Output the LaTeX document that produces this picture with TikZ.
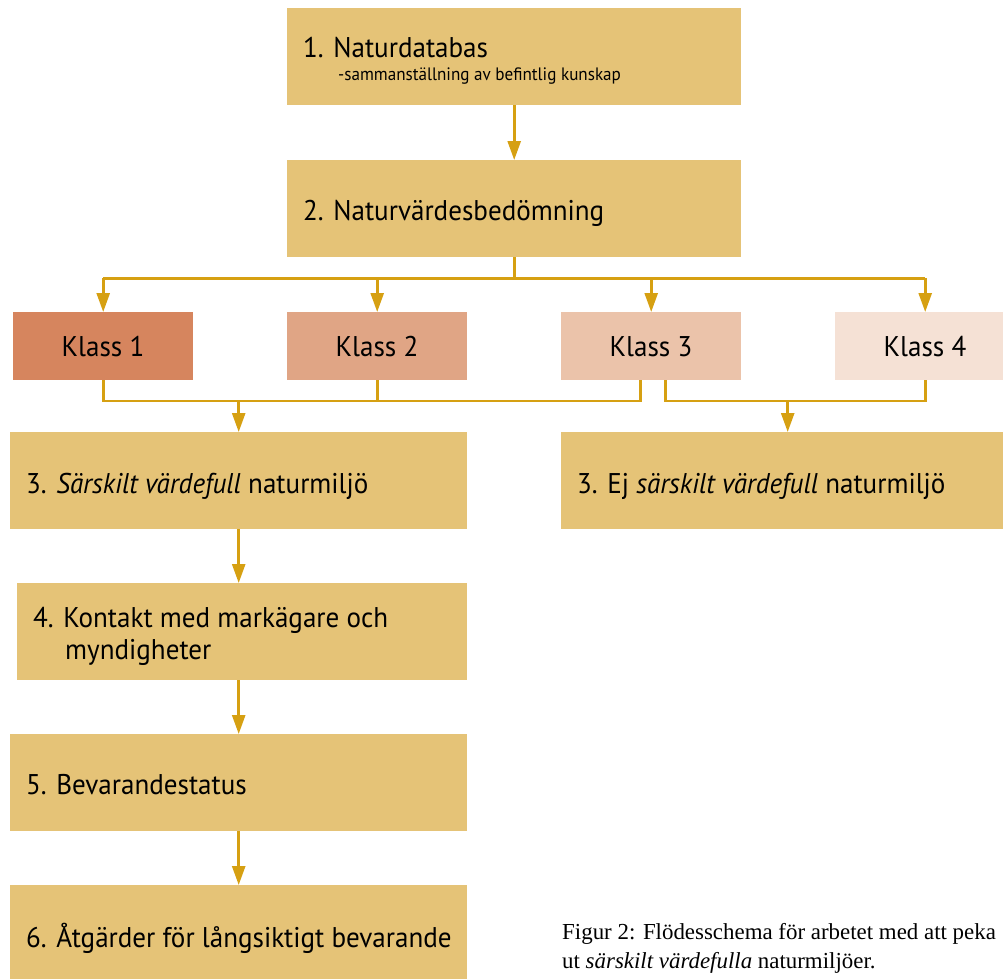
\documentclass[tikz,border=0pt]{standalone}
\usepackage{fontspec}
\usetikzlibrary{arrows.meta,calc}
\newfontfamily\boxfont{PT Sans}[FakeStretch=0.95]
\newfontfamily\capfont{Liberation Serif}
\definecolor{boxgold}{RGB}{229,195,119}
\definecolor{linegold}{RGB}{214,160,18}
\definecolor{klassA}{RGB}{214,133,94}
\definecolor{klassB}{RGB}{224,165,133}
\definecolor{klassC}{RGB}{235,195,170}
\definecolor{klassD}{RGB}{245,225,213}
\tikzset{
  box/.style={fill=boxgold, draw=none, rectangle, inner sep=0pt, anchor=north west},
  klass/.style={draw=none, rectangle, inner sep=0pt, anchor=north west, minimum width=180pt, minimum height=68pt},
  txt/.style={anchor=base west, inner sep=0pt, font=\boxfont\fontsize{28.5}{33}\selectfont, text=black},
  subtxt/.style={anchor=base west, inner sep=0pt, font=\boxfont\fontsize{18}{22}\selectfont, text=black},
  ktxt/.style={anchor=base, inner sep=0pt, font=\boxfont\fontsize{28.5}{33}\selectfont, text=black},
  captxt/.style={anchor=base west, inner sep=0pt, font=\capfont\fontsize{22.9}{29}\selectfont, text=black},
  conn/.style={draw=linegold, line width=2.6pt},
  arr/.style={conn, -{Triangle[length=19pt,width=13pt]}},
}
\begin{document}
\begin{tikzpicture}[x=1pt,y=-1pt]
\useasboundingbox (0,0) rectangle (1003,978);
\clip (0,0) rectangle (1003,978);
% boxes
\node[box, minimum width=454pt, minimum height=97pt] (b1) at (287,8) {};
\node[box, minimum width=454pt, minimum height=97pt] (b2) at (287,160) {};
\node[klass, fill=klassA] (k1) at (13,312) {};
\node[klass, fill=klassB] (k2) at (287,312) {};
\node[klass, fill=klassC] (k3) at (561,312) {};
\node[klass, fill=klassD] (k4) at (835,312) {};
\node[box, minimum width=457pt, minimum height=97pt] (b3) at (10,432) {};
\node[box, minimum width=457pt, minimum height=97pt] (b3e) at (561,432) {};
\node[box, minimum width=450pt, minimum height=97pt] (b4) at (17,583) {};
\node[box, minimum width=457pt, minimum height=97pt] (b5) at (10,734) {};
\node[box, minimum width=457pt, minimum height=97pt] (b6) at (10,885) {};
% texts
\node[txt] (t1) at (303,57) {1. Naturdatabas};
\node[subtxt] (t1s) at (338,80) {-sammanställning av befintlig kunskap};
\node[txt] (t2) at (303,220) {2. Naturvärdesbedömning};
\node[ktxt] (tk1) at (103,356) {Klass 1};
\node[ktxt] (tk2) at (377,356) {Klass 2};
\node[ktxt] (tk3) at (651,356) {Klass 3};
\node[ktxt] (tk4) at (925,356) {Klass 4};
\node[txt] (t3) at (26,493) {3. \textit{Särskilt värdefull} naturmiljö};
\node[txt] (t3e) at (577,493) {3. Ej \textit{särskilt värdefull} naturmiljö};
\node[txt] (t4a) at (33,627) {4. Kontakt med markägare och};
\node[txt] (t4b) at (65,659) {myndigheter};
\node[txt] (t5) at (26,794) {5. Bevarandestatus};
\node[txt] (t6) at (26,947) {6. Åtgärder för långsiktigt bevarande};
\node[captxt] (c1) at (562,939) {Figur 2: Flödesschema för arbetet med att peka};
\node[captxt] (c2) at (562,968) {ut \textit{särskilt värdefulla} naturmiljöer.};
% connectors
\coordinate (hub) at ($(b2.south)+(0,21)$);
\draw[arr] (b1.south) -- (b2.north);
\draw[conn] (b2.south) -- (hub);
\draw[conn] (k1.north |- hub) -- (k4.north |- hub);
\foreach \k in {k1,k2,k3,k4} \draw[arr] (\k.north |- hub) -- (\k.north);
\coordinate (lowL) at (0,401);
\draw[conn] (k1.south) -- (k1.south |- lowL) -- ($(k3.south |- lowL)+(-11,0)$) -- ($(k3.south)+(-11,0)$);
\draw[conn] (k2.south) -- (k2.south |- lowL);
\draw[conn] ($(k3.south)+(14,0)$) -- ($(k3.south |- lowL)+(14,0)$) -- (k4.south |- lowL) -- (k4.south);
\draw[arr] (b3.north |- lowL) -- (b3.north);
\draw[arr] ($(b3e.north |- lowL)+(-2,0)$) -- ($(b3e.north)+(-2,0)$);
\draw[arr] (b3.south) -- (b3.south |- b4.north);
\draw[arr] (b3.south |- b4.south) -- (b3.south |- b5.north);
\draw[arr] (b5.south) -- (b6.north);
\end{tikzpicture}
\end{document}
